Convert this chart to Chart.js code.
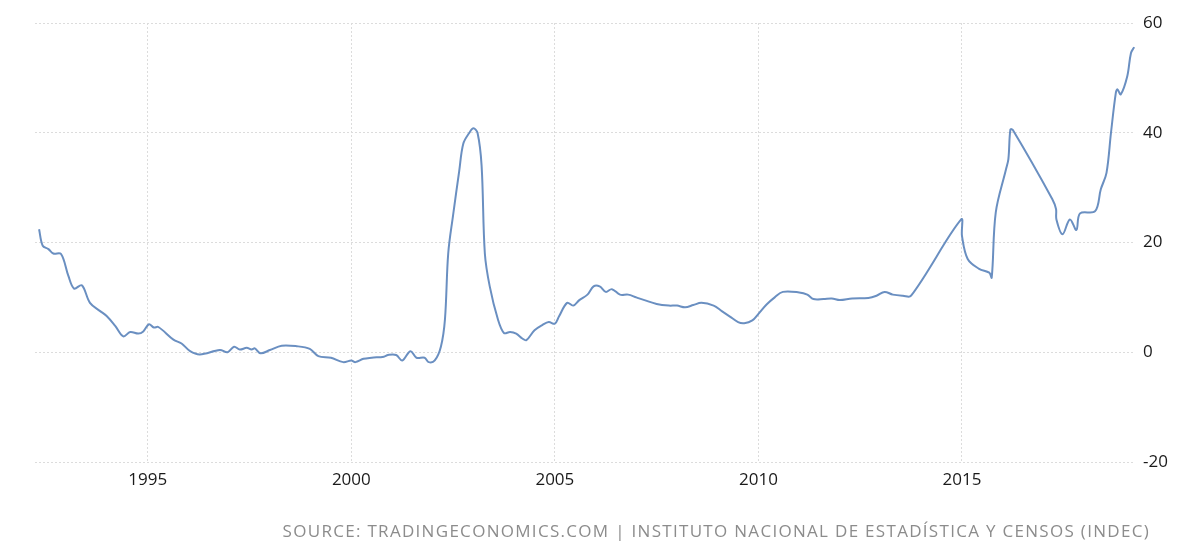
<!DOCTYPE html>
<html>
<head>
<meta charset="utf-8">
<script src="https://cdn.jsdelivr.net/npm/chart.js@4"></script>
<style>
  body { margin: 0; background: #fff; }
  #wrap { position: relative; width: 1200px; height: 559px; }
  #source { position: absolute; right: 50px; top: 519px; font-family: "Open Sans", sans-serif;
    font-size: 17px; color: #8c8c8c; letter-spacing: 1.3px; white-space: nowrap; }
</style>
</head>
<body>
<div id="wrap">
  <canvas id="myChart" width="1200" height="559"></canvas>
  <div id="source">SOURCE: TRADINGECONOMICS.COM | INSTITUTO NACIONAL DE ESTADÍSTICA Y CENSOS (INDEC)</div>
</div>
<script>
var years = [1992.33,1992.42,1992.56,1992.68,1992.87,1993.05,1993.19,1993.38,1993.58,1993.83,1993.99,1994.2,1994.4,1994.57,1994.77,1994.89,1995.03,1995.15,1995.26,1995.63,1995.83,1996.04,1996.28,1996.77,1996.96,1997.12,1997.26,1997.43,1997.55,1997.63,1997.77,1998.0,1998.29,1998.66,1998.98,1999.19,
  1999.5,1999.8,2000.0,2000.1,2000.3,2000.5,2000.8,2000.9,2001.1,2001.25,2001.45,2001.6,2001.8,2001.9,2002.05,2002.2,2002.3,2002.38,2002.5,2002.65,2002.75,2002.9,2003.0,2003.1,2003.2,2003.28,2003.4,2003.6,2003.75,2003.9,2004.05,2004.2,2004.3,2004.5,2004.7,2004.85,2005.0,2005.1,2005.3,2005.45,2005.6,2005.8,2005.95,2006.1,2006.25,2006.4,2006.6,2006.8,2007.0,2007.2,2007.5,2007.8,2008.0,2008.2,2008.4,2008.6,2008.9,2009.1,2009.3,2009.5,2009.65,2009.85,2010.0,2010.2,2010.4,2010.6,2011.0,2011.2,2011.35,2011.6,2011.8,2012.0,2012.3,2012.7,2012.9,2013.1,2013.3,2013.55,
  2013.75,2014.98,2015.0,2015.14,2015.42,2015.67,2015.73,2015.83,2016.08,2016.14,2016.19,2016.25,2017.22,2017.31,2017.32,2017.47,2017.65,2017.81,2017.9,2018.27,2018.41,2018.55,2018.66,2018.78,2018.82,2018.9,2019.06,2019.15,2019.23];
var inflation = [22.4,19.4,18.8,18.0,17.9,13.9,11.6,12.2,9.0,7.5,6.6,4.8,2.9,3.7,3.4,3.8,5.1,4.5,4.6,2.3,1.6,0.2,-0.4,0.4,0,1.0,0.5,0.8,0.5,0.7,-0.2,0.4,1.2,1.1,0.6,-0.7,
  -1.0,-1.8,-1.5,-1.8,-1.2,-1.0,-0.8,-0.5,-0.5,-1.5,0.2,-1.0,-1.0,-1.8,-1.5,1,6,18,25,33,38,40,40.8,40,34,18,12,6,3.5,3.7,3.4,2.5,2.2,4,5,5.5,5.2,6.5,9,8.5,9.5,10.5,12,12,11,11.5,10.5,10.5,10,9.5,8.8,8.5,8.5,8.2,8.6,9,8.5,7.5,6.5,5.5,5.3,5.8,7,8.7,10,11,10.9,10.5,9.7,9.7,9.8,9.5,9.8,9.9,10.3,11,10.5,10.3,
  10.3,24.2,21.2,17.0,15.2,14.5,13.6,25.5,33.3,35.2,40.6,40.5,27.9,26.1,24.2,21.5,24.2,22.3,25.3,25.7,29.7,32.7,40,47.3,47.9,47.0,50.3,54.5,55.6];
var xTicks = [1995, 2000, 2005, 2010, 2015];
var yTicks = [-20, 0, 20, 40, 60];

var points = years.map(function (y, i) { return { x: y, y: inflation[i] }; });

var ctx = document.getElementById("myChart");
var myChart = new Chart(ctx, {
  type: 'line',
  data: {
    datasets: [{
      data: points,
      borderColor: '#6a8fc1',
      borderWidth: 2,
      pointRadius: 0,
      tension: 0.35,
      fill: false
    }]
  },
  options: {
    responsive: false,
    animation: false,
    layout: { padding: { left: 35, top: 23, right: 0, bottom: 0 } },
    plugins: { legend: { display: false }, tooltip: { enabled: false } },
    scales: {
      x: {
        type: 'linear',
        min: 1992.23,
        max: 2019.25,
        afterBuildTicks: function (s) { s.ticks = xTicks.map(function (v) { return { value: v }; }); },
        afterFit: function (s) { s.height = 97; },
        border: { display: false, dash: [2, 2] },
        grid: { color: '#dcdcdc', drawTicks: false },
        ticks: {
          padding: 8, color: '#1a1a1a',
          font: { family: 'Open Sans', size: 17 },
          callback: function (v) { return String(v); }
        }
      },
      y: {
        position: 'right',
        min: -20,
        max: 60,
        afterBuildTicks: function (s) { s.ticks = yTicks.map(function (v) { return { value: v }; }); },
        afterFit: function (s) { s.width = 65; },
        border: { display: false, dash: [2, 2] },
        grid: { color: '#dcdcdc', drawTicks: false },
        ticks: {
          padding: 8, color: '#1a1a1a',
          font: { family: 'Open Sans', size: 17 }
        }
      }
    }
  }
});
</script>
</body>
</html>
